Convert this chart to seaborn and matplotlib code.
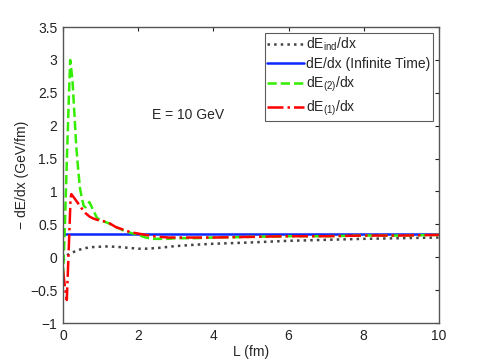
import matplotlib
matplotlib.use("Agg")
import matplotlib.pyplot as plt
import pandas as pd
import seaborn as sns

# dE_ind/dx (dotted)
L_ind = [0, 0.1, 0.2, 0.4, 0.6, 0.8, 1.0, 1.2, 1.5, 1.8, 2.0, 2.2, 2.5, 3.0, 3.5, 4, 5, 6, 7, 8, 9, 10]
v_ind = [-0.05, 0.03, 0.06, 0.11, 0.14, 0.155, 0.16, 0.165, 0.155, 0.14, 0.13, 0.13, 0.14, 0.17,
         0.19, 0.205, 0.225, 0.25, 0.265, 0.28, 0.29, 0.30]

# dE/dx infinite time
L_inf = [0, 10]
v_inf = [0.36, 0.36]

# dE_(2)/dx (dashed)
L_two = [0, 0.05, 0.1, 0.15, 0.19, 0.25, 0.3, 0.35, 0.4, 0.45, 0.5, 0.55, 0.6, 0.7, 0.8, 0.9, 1.0,
         1.2, 1.4, 1.6, 1.8, 2.0, 2.2, 2.4, 2.6, 2.8, 3.0, 3.5, 4, 5, 6, 7, 8, 9, 10]
v_two = [-0.3, 0.5, 1.45, 2.35, 3.0, 2.7, 2.2, 1.7, 1.35, 1.05, 0.9, 0.78, 0.76, 0.84, 0.72, 0.6, 0.56,
         0.52, 0.46, 0.41, 0.37, 0.34, 0.30, 0.28, 0.28, 0.28, 0.29, 0.29, 0.30, 0.31, 0.32, 0.32,
         0.33, 0.33, 0.34]

# dE_(1)/dx (dash-dot)
L_one = [0, 0.05, 0.1, 0.15, 0.2, 0.22, 0.3, 0.4, 0.5, 0.6, 0.7, 0.8, 0.9, 1.0, 1.2, 1.4, 1.6, 1.8,
         2.0, 2.2, 2.4, 2.6, 2.8, 3.0, 3.5, 4, 5, 6, 7, 8, 9, 10]
v_one = [-0.2, -0.45, -0.65, 0.1, 0.9, 0.96, 0.9, 0.82, 0.74, 0.67, 0.62, 0.59, 0.57, 0.56, 0.53,
         0.46, 0.42, 0.38, 0.36, 0.34, 0.32, 0.31, 0.30, 0.30, 0.30, 0.30, 0.31, 0.32, 0.32, 0.33,
         0.33, 0.34]

sns.set_style("white")
plt.rcParams['font.family'] = ['Liberation Sans', 'DejaVu Sans']
plt.rcParams['font.size'] = 10

fig = plt.figure(figsize=(4.85, 3.64), dpi=100)
ax = fig.add_axes([0.13, 0.1126, 0.775, 0.813])

sns.lineplot(x=L_ind, y=v_ind, ax=ax, color='#444444', linestyle=':', linewidth=1.8,
             label=r'dE$_{\mathregular{ind}}$/dx')
sns.lineplot(x=L_inf, y=v_inf, ax=ax, color='#0a28ff', linestyle='-', linewidth=1.8,
             label='dE/dx (Infinite Time)')
sns.lineplot(x=L_two, y=v_two, ax=ax, color='#33ee00', linestyle='--', linewidth=1.8,
             label=r'dE$_{\mathregular{(2)}}$/dx')
sns.lineplot(x=L_one, y=v_one, ax=ax, color='#ff0000', linestyle='-.', linewidth=1.8,
             label=r'dE$_{\mathregular{(1)}}$/dx')

ax.set_xlim(0, 10)
ax.set_ylim(-1, 3.5)
ax.set_xticks([0, 2, 4, 6, 8, 10])
ax.set_yticks([-1, -0.5, 0, 0.5, 1, 1.5, 2, 2.5, 3, 3.5])
ax.set_yticklabels(['\u22121', '\u22120.5', '0', '0.5', '1', '1.5', '2', '2.5', '3', '3.5'])
ax.tick_params(direction='in', top=True, right=True, length=3, width=0.8, colors='#222222',
               labelsize=10, pad=4)
for s in ax.spines.values():
    s.set_color('#555555')
    s.set_linewidth(1.0)

ax.set_xlabel('L (fm)', labelpad=2)
ax.set_ylabel('\u2212 dE/dx (GeV/fm)', labelpad=1)
ax.text(2.37, 2.16, 'E = 10 GeV', fontsize=10, va='center')

leg = ax.legend(loc='upper right', frameon=True, fancybox=False, fontsize=10,
                borderpad=0.2, labelspacing=0.3, handlelength=2.6, handletextpad=0.2,
                borderaxespad=0.4)
leg.get_frame().set_edgecolor('#333333')
leg.get_frame().set_linewidth(0.8)

fig.savefig('out.png', dpi=100)
